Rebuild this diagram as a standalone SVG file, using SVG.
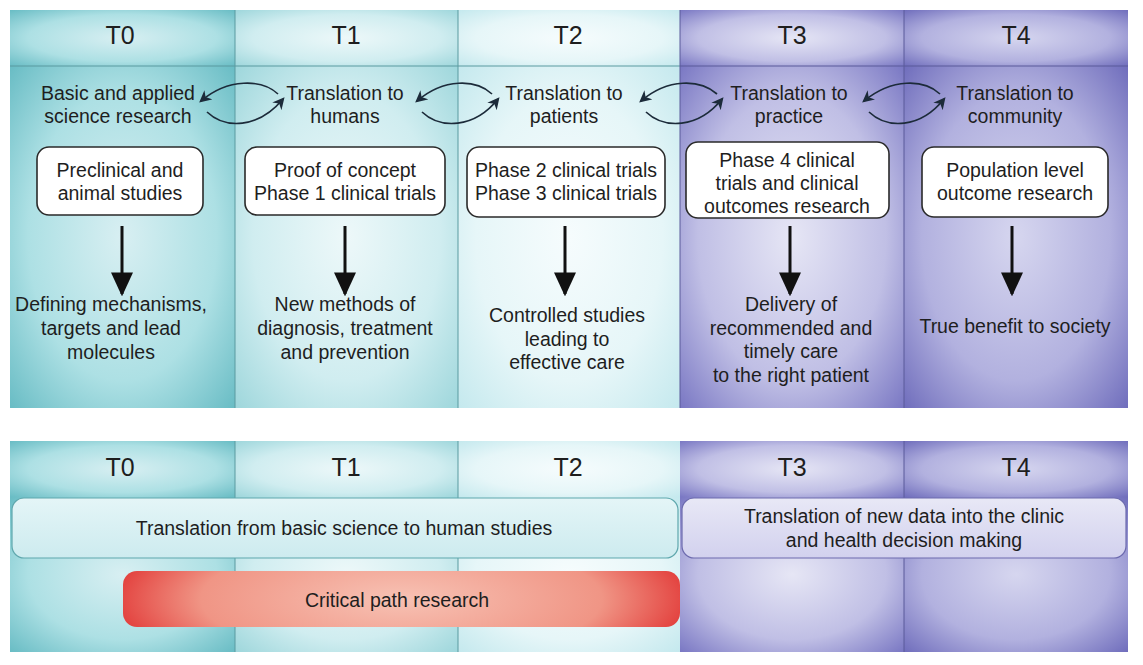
<svg xmlns="http://www.w3.org/2000/svg" width="1143" height="665" viewBox="0 0 1143 665">
<style>
text{font-family:"Liberation Sans",Arial,sans-serif;fill:#1e1e1e;text-anchor:middle}
.hd{font-size:25px}
.tx{font-size:19.5px}
.sm{font-size:19.5px}
.box{fill:#fff;stroke:#2a2a2a;stroke-width:1.6}
.sep{stroke:#5a9aa0;stroke-width:1}
.sepP{stroke:#5a5a9a;stroke-width:1}
.loop{fill:none;stroke:#1c2b3a;stroke-width:1.7}
.down{stroke:#111;stroke-width:3}
</style>
<defs>
<radialGradient id="g0" cx="0.5" cy="0.5" r="0.7"><stop offset="0" stop-color="#d8eff2"/><stop offset="0.6" stop-color="#ade0e4"/><stop offset="1" stop-color="#6abdc5"/></radialGradient>
<radialGradient id="g1" cx="0.5" cy="0.5" r="0.7"><stop offset="0" stop-color="#edf8f9"/><stop offset="0.6" stop-color="#d0edf0"/><stop offset="1" stop-color="#9fd7dc"/></radialGradient>
<radialGradient id="g2" cx="0.5" cy="0.5" r="0.7"><stop offset="0" stop-color="#f6fcfd"/><stop offset="0.6" stop-color="#e6f6f8"/><stop offset="1" stop-color="#c5e9ee"/></radialGradient>
<radialGradient id="g3" cx="0.5" cy="0.5" r="0.7"><stop offset="0" stop-color="#e6e6f5"/><stop offset="0.6" stop-color="#c0bfe5"/><stop offset="1" stop-color="#7b79c4"/></radialGradient>
<radialGradient id="g4" cx="0.5" cy="0.5" r="0.7"><stop offset="0" stop-color="#d6d6ef"/><stop offset="0.6" stop-color="#b2b1df"/><stop offset="1" stop-color="#716fbd"/></radialGradient>
<linearGradient id="lb" x1="0" y1="0" x2="0" y2="1"><stop offset="0" stop-color="#e4f5f7"/><stop offset="1" stop-color="#cdebef"/></linearGradient>
<linearGradient id="lp" x1="0" y1="0" x2="0" y2="1"><stop offset="0" stop-color="#e8e8f6"/><stop offset="1" stop-color="#d2d1ee"/></linearGradient>
<radialGradient id="red" cx="0.5" cy="0.5" r="0.6" gradientTransform="translate(0.5 0.5) scale(1 3) translate(-0.5 -0.5)"><stop offset="0" stop-color="#f7c2b4"/><stop offset="0.6" stop-color="#f09585"/><stop offset="1" stop-color="#dc1418"/></radialGradient>
<marker id="ah" viewBox="0 0 10 10" refX="8" refY="5" markerWidth="12" markerHeight="12" markerUnits="userSpaceOnUse" orient="auto"><path d="M0,0 L10,5 L0,10 L3,5 Z" fill="#1c2b3a"/></marker>
<marker id="dh" viewBox="0 0 10 10" refX="9" refY="5" markerWidth="24" markerHeight="22" markerUnits="userSpaceOnUse" orient="auto" preserveAspectRatio="none"><path d="M0,0 L10,5 L0,10 Z" fill="#111"/></marker>
</defs>
<rect width="1143" height="665" fill="#fff"/>

<!-- top panel columns -->
<g id="top-columns">
<rect x="10" y="10" width="225" height="56" fill="url(#g0)"/>
<rect x="10" y="66" width="225" height="342" fill="url(#g0)"/>
<rect x="235" y="10" width="223" height="56" fill="url(#g1)"/>
<rect x="235" y="66" width="223" height="342" fill="url(#g1)"/>
<rect x="458" y="10" width="222" height="56" fill="url(#g2)"/>
<rect x="458" y="66" width="222" height="342" fill="url(#g2)"/>
<rect x="680" y="10" width="224" height="56" fill="url(#g3)"/>
<rect x="680" y="66" width="224" height="342" fill="url(#g3)"/>
<rect x="904" y="10" width="224" height="56" fill="url(#g4)"/>
<rect x="904" y="66" width="224" height="342" fill="url(#g4)"/>
<line class="sep" x1="10" y1="66" x2="680" y2="66"/>
<line class="sepP" x1="680" y1="66" x2="1128" y2="66"/>
<line class="sep" x1="235" y1="10" x2="235" y2="408"/>
<line class="sep" x1="458" y1="10" x2="458" y2="408"/>
<line class="sepP" x1="680" y1="10" x2="680" y2="408"/>
<line class="sepP" x1="904" y1="10" x2="904" y2="408"/>
<text class="hd" x="120" y="44">T0</text>
<text class="hd" x="346" y="44">T1</text>
<text class="hd" x="568" y="44">T2</text>
<text class="hd" x="792" y="44">T3</text>
<text class="hd" x="1016" y="44">T4</text>
</g>

<g id="T0">
<text class="tx" x="118" y="100">Basic and applied</text>
<text class="tx" x="118" y="123">science research</text>
<rect class="box" x="37" y="147" width="166" height="68" rx="12"/>
<text class="tx" x="120" y="177">Preclinical and</text>
<text class="tx" x="120" y="200">animal studies</text>
<text class="tx" x="111" y="311">Defining mechanisms,</text>
<text class="tx" x="111" y="335">targets and lead</text>
<text class="tx" x="111" y="359">molecules</text>
</g>
<g id="T1">
<text class="tx" x="345" y="100">Translation to</text>
<text class="tx" x="345" y="123">humans</text>
<rect class="box" x="245" y="147" width="200" height="68" rx="12"/>
<text class="tx" x="345" y="177">Proof of concept</text>
<text class="tx" x="345" y="200">Phase 1 clinical trials</text>
<text class="tx" x="345" y="311">New methods of</text>
<text class="tx" x="345" y="335">diagnosis, treatment</text>
<text class="tx" x="345" y="359">and prevention</text>
</g>
<g id="T2">
<text class="tx" x="564" y="100">Translation to</text>
<text class="tx" x="564" y="123">patients</text>
<rect class="box" x="467" y="147" width="198" height="70" rx="12"/>
<text class="tx" x="566" y="177">Phase 2 clinical trials</text>
<text class="tx" x="566" y="200">Phase 3 clinical trials</text>
<text class="tx" x="567" y="322">Controlled studies</text>
<text class="tx" x="567" y="346">leading to</text>
<text class="tx" x="567" y="369">effective care</text>
</g>
<g id="T3">
<text class="tx" x="789" y="100">Translation to</text>
<text class="tx" x="789" y="123">practice</text>
<rect class="box" x="686" y="142" width="203" height="76" rx="12"/>
<text class="tx" x="787" y="167">Phase 4 clinical</text>
<text class="tx" x="787" y="190">trials and clinical</text>
<text class="tx" x="787" y="213">outcomes research</text>
<text class="tx" x="791" y="311">Delivery of</text>
<text class="tx" x="791" y="335">recommended and</text>
<text class="tx" x="791" y="358">timely care</text>
<text class="tx" x="791" y="382">to the right patient</text>
</g>
<g id="T4">
<text class="tx" x="1015" y="100">Translation to</text>
<text class="tx" x="1015" y="123">community</text>
<rect class="box" x="922" y="147" width="186" height="70" rx="12"/>
<text class="tx" x="1015" y="177">Population level</text>
<text class="tx" x="1015" y="200">outcome research</text>
<text class="tx" x="1015" y="333">True benefit to society</text>
</g>

<g id="connectors">
<path class="loop" marker-end="url(#ah)" d="M278,94 C262,79 228,78 201,101"/>
<path class="loop" marker-end="url(#ah)" d="M207,112 C225,129 258,129 283,99"/>
<path class="loop" marker-end="url(#ah)" d="M492,94 C476,79 444,78 417,101"/>
<path class="loop" marker-end="url(#ah)" d="M422,112 C440,129 474,129 498,99"/>
<path class="loop" marker-end="url(#ah)" d="M717,94 C700,79 668,78 641,101"/>
<path class="loop" marker-end="url(#ah)" d="M646,112 C664,129 698,129 722,99"/>
<path class="loop" marker-end="url(#ah)" d="M940,94 C924,79 892,78 864,101"/>
<path class="loop" marker-end="url(#ah)" d="M869,112 C887,129 920,129 944,99"/>
<line class="down" marker-end="url(#dh)" x1="122" y1="226" x2="122" y2="294"/>
<line class="down" marker-end="url(#dh)" x1="345" y1="226" x2="345" y2="294"/>
<line class="down" marker-end="url(#dh)" x1="565" y1="226" x2="565" y2="294"/>
<line class="down" marker-end="url(#dh)" x1="790" y1="226" x2="790" y2="294"/>
<line class="down" marker-end="url(#dh)" x1="1012" y1="226" x2="1012" y2="294"/>
</g>

<!-- bottom panel -->
<g id="bottom-columns">
<rect x="10" y="441" width="225" height="56" fill="url(#g0)"/>
<rect x="10" y="497" width="225" height="155" fill="url(#g0)"/>
<rect x="235" y="441" width="223" height="56" fill="url(#g1)"/>
<rect x="235" y="497" width="223" height="155" fill="url(#g1)"/>
<rect x="458" y="441" width="222" height="56" fill="url(#g2)"/>
<rect x="458" y="497" width="222" height="155" fill="url(#g2)"/>
<rect x="680" y="441" width="224" height="56" fill="url(#g3)"/>
<rect x="680" y="497" width="224" height="155" fill="url(#g3)"/>
<rect x="904" y="441" width="224" height="56" fill="url(#g4)"/>
<rect x="904" y="497" width="224" height="155" fill="url(#g4)"/>
<line class="sep" x1="235" y1="441" x2="235" y2="652"/>
<line class="sep" x1="458" y1="441" x2="458" y2="652"/>
<line class="sepP" x1="904" y1="441" x2="904" y2="652"/>
<text class="hd" x="120" y="476">T0</text>
<text class="hd" x="346" y="476">T1</text>
<text class="hd" x="568" y="476">T2</text>
<text class="hd" x="792" y="476">T3</text>
<text class="hd" x="1016" y="476">T4</text>
</g>
<g id="basic-to-human">
<rect x="12" y="498" width="666" height="60" rx="12" fill="url(#lb)" stroke="#5fa7ad" stroke-width="1.2"/>
<text class="sm" x="344" y="535">Translation from basic science to human studies</text>
</g>
<g id="data-to-clinic">
<rect x="682" y="498" width="444" height="60" rx="12" fill="url(#lp)" stroke="#6c6aae" stroke-width="1.2"/>
<text class="sm" x="904" y="523">Translation of new data into the clinic</text>
<text class="sm" x="904" y="547">and health decision making</text>
</g>
<g id="critical-path">
<rect x="123" y="571" width="557" height="56" rx="14" fill="url(#red)"/>
<text class="sm" x="397" y="607">Critical path research</text>
</g>
</svg>
